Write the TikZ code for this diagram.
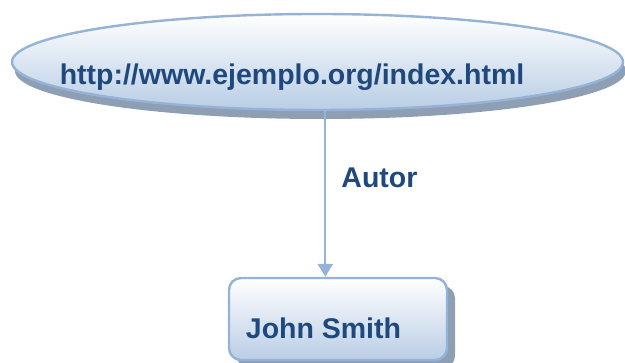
\documentclass[tikz,border=0pt]{standalone}
\usepackage{fontspec}
\setmainfont{Liberation Sans}
\usetikzlibrary{shapes.geometric, shadows, arrows.meta}
\definecolor{rdfline}{HTML}{95B3D7}
\definecolor{rdffill}{HTML}{B9CDE5}
\definecolor{rdftext}{HTML}{1F497D}
\definecolor{rdfshadow}{HTML}{8E9FB3}

\begin{document}
\begin{tikzpicture}[x=1pt,y=1pt,>={Triangle[width=15pt,length=13pt]}]
\tikzstyle{txt}=[text=rdftext,font=\fontsize{28.5}{34}\selectfont\bfseries,inner sep=0pt]
\tikzstyle{res}=[ellipse,draw=rdfline,line width=2.4pt,top color=white,bottom color=rdffill,
  minimum width=611pt,minimum height=96pt,inner sep=0pt,
  drop shadow={shadow xshift=3pt,shadow yshift=-9pt,fill=rdfshadow,opacity=1}]
\tikzstyle{lit}=[rectangle,rounded corners=12pt,draw=rdfline,line width=2.4pt,top color=white,bottom color=rdffill,
  minimum width=218pt,minimum height=82pt,inner sep=0pt,
  drop shadow={shadow xshift=8pt,shadow yshift=-8pt,fill=rdfshadow,opacity=1}]
\useasboundingbox (0,0) rectangle (625,363);

%-- Nodes --
\node[res] (web) at (317.5,301) {};
\node[txt] (url) at (292,285.5) {http://www.ejemplo.org/index.html};
\node[lit] (john) at (338,44) {};
\node[txt] (name) at (323.5,35) {John Smith};

%-- Property --
\draw[->,draw=rdfline,fill=rdfline,line width=2.4pt] (web.-81.1) -- (web.-81.1 |- john.north)
  node[txt,pos=0.405,anchor=west,xshift=15pt] (prop) {Autor};

\end{tikzpicture}
\end{document}
